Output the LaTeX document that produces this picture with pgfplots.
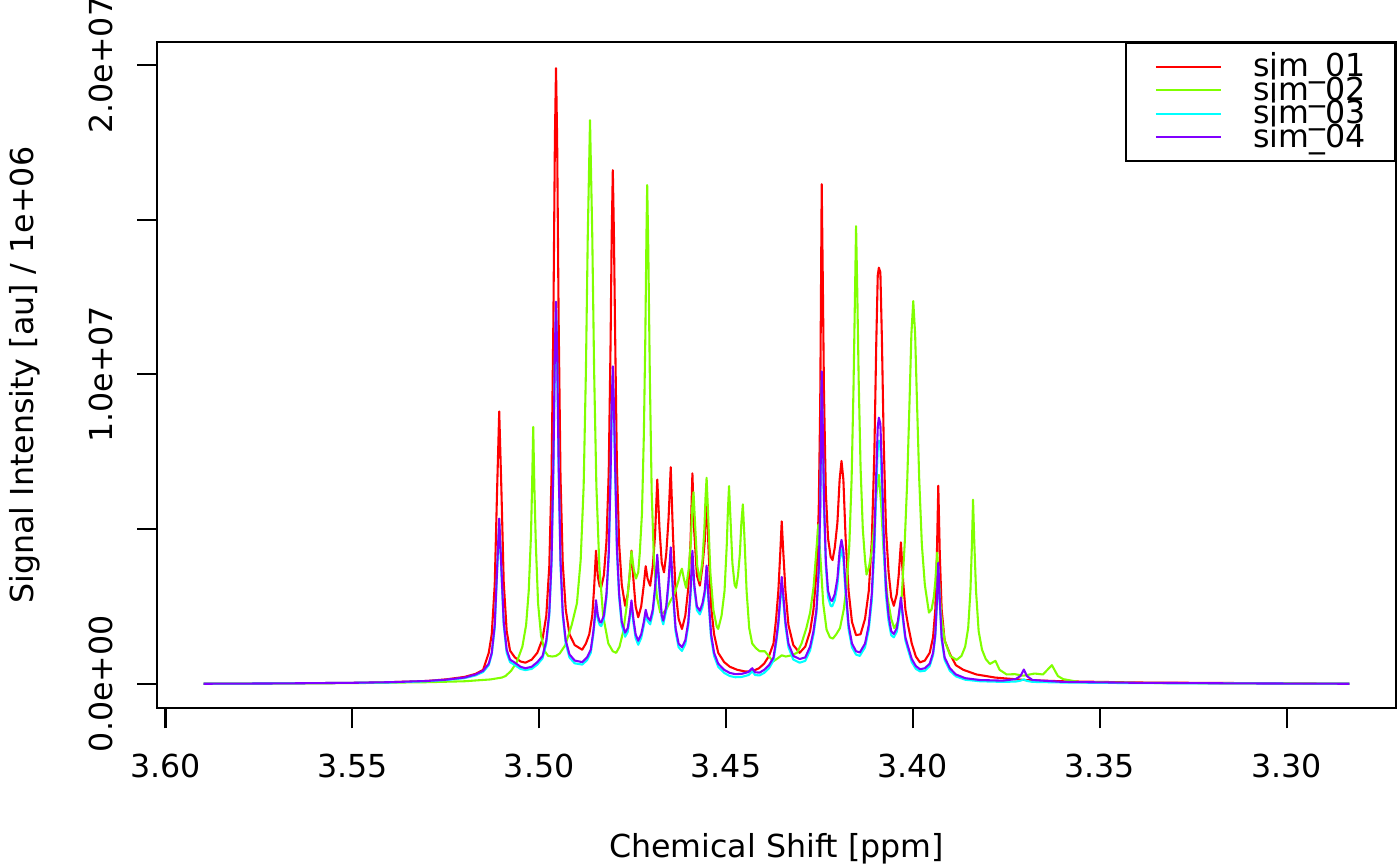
\documentclass[border=0pt]{standalone}
\usepackage{fontspec}
\setmainfont{DejaVu Sans}
\usepackage{pgfplots}
\pgfplotsset{compat=1.18}
\definecolor{cA}{HTML}{FF0000}
\definecolor{cB}{HTML}{80FF00}
\definecolor{cC}{HTML}{00FFFF}
\definecolor{cD}{HTML}{8000FF}
\begin{document}
\fontsize{11.4pt}{13.5pt}\selectfont
\begin{tikzpicture}
\begin{axis}[
  scale only axis, width=445.8pt, height=239.9pt,
  x dir=reverse, xmin=3.2708, xmax=3.6022, ymin=-0.0797, ymax=2.0745,
  axis line style={line width=0.75pt},
  every tick/.style={black, line width=0.75pt},
  tick align=outside, major tick length=7.2pt,
  xtick pos=bottom, ytick pos=left,
  xtick={3.30,3.35,3.40,3.45,3.50,3.55,3.60},
  xticklabels={3.30,3.35,3.40,3.45,3.50,3.55,3.60},
  ytick={0,0.5,1,1.5,2},
  yticklabels={0.0e+00,,1.0e+07,,2.0e+07},
  xticklabel style={anchor=base}, xticklabel shift=17.64pt,
  yticklabel style={rotate=90, anchor=base}, yticklabel shift=9.1pt,
  every axis x label/.style={at={([yshift=-53.5pt]axis description cs:0.5,0)}, anchor=base},
  every axis y label/.style={at={([xshift=-44.4pt]axis description cs:0,0.5)}, rotate=90, anchor=base},
  xlabel={Chemical Shift [ppm]},
  ylabel={Signal Intensity [au] / 1e+06},
  legend style={at={(1,1)}, anchor=north east, draw=black, line width=0.75pt, fill=white,
    inner xsep=10.4pt, inner ysep=4.24pt, column sep=11.4pt, row sep=0pt,
    cells={anchor=west}, nodes={inner sep=0pt, text height=7.85pt, text depth=0.65pt}},
  legend image code/.code={\draw[#1, line width=0.75pt] (0pt,0pt) -- (23.4pt,0pt);},
  every axis plot/.append style={line width=0.75pt, line join=round},
]
\addplot[cA, no markers] table {
x y
3.5898 0
3.5700 0.001
3.5500 0.003
3.5400 0.005
3.5300 0.009
3.5250 0.014
3.5200 0.022
3.5170 0.032
3.5150 0.045
3.5135 0.10
3.5127 0.16
3.5119 0.32
3.5113 0.61
3.5107 0.88
3.5101 0.62
3.5095 0.33
3.5087 0.17
3.5078 0.107
3.5065 0.085
3.5050 0.072
3.5037 0.068
3.5020 0.078
3.5005 0.10
3.4991 0.145
3.4981 0.22
3.4973 0.38
3.4967 0.67
3.4962 1.18
3.4958 1.76
3.4955 1.99
3.4952 1.76
3.4948 1.18
3.4943 0.67
3.4937 0.39
3.4929 0.24
3.4919 0.16
3.4905 0.125
3.4885 0.11
3.4875 0.13
3.4866 0.16
3.4858 0.22
3.4853 0.31
3.4848 0.43
3.4843 0.345
3.4838 0.315
3.4834 0.312
3.4827 0.35
3.4820 0.46
3.4814 0.68
3.4809 1.10
3.4806 1.45
3.4803 1.66
3.4800 1.45
3.4797 1.15
3.4792 0.70
3.4786 0.45
3.4779 0.32
3.4770 0.252
3.4763 0.29
3.4758 0.35
3.4753 0.43
3.4748 0.34
3.4742 0.25
3.4735 0.215
3.4727 0.25
3.4720 0.32
3.4715 0.38
3.4710 0.34
3.4703 0.317
3.4696 0.38
3.4690 0.48
3.4684 0.66
3.4678 0.50
3.4672 0.39
3.4666 0.36
3.4660 0.42
3.4654 0.53
3.4648 0.70
3.4642 0.48
3.4635 0.30
3.4627 0.21
3.4618 0.177
3.4609 0.22
3.4601 0.31
3.4595 0.46
3.4590 0.68
3.4585 0.49
3.4578 0.35
3.4570 0.317
3.4563 0.38
3.4557 0.46
3.4552 0.62
3.4547 0.44
3.4540 0.25
3.4532 0.16
3.4521 0.10
3.4505 0.07
3.4490 0.055
3.4470 0.045
3.4450 0.040
3.4430 0.040
3.4412 0.050
3.4398 0.065
3.4385 0.09
3.4373 0.13
3.4366 0.21
3.4360 0.30
3.4355 0.42
3.4351 0.525
3.4347 0.43
3.4341 0.30
3.4333 0.19
3.4320 0.125
3.4303 0.10
3.4288 0.12
3.4275 0.17
3.4266 0.24
3.4258 0.36
3.4252 0.56
3.4248 0.90
3.4246 1.25
3.4244 1.615
3.4241 1.30
3.4238 0.95
3.4233 0.62
3.4227 0.47
3.4220 0.41
3.4215 0.40
3.4209 0.44
3.4202 0.52
3.4196 0.66
3.4191 0.72
3.4186 0.66
3.4180 0.47
3.4172 0.30
3.4163 0.20
3.4152 0.157
3.4140 0.16
3.4128 0.21
3.4118 0.30
3.4110 0.46
3.4103 0.75
3.4098 1.10
3.4094 1.32
3.4091 1.345
3.4087 1.33
3.4083 1.12
3.4078 0.78
3.4072 0.50
3.4065 0.36
3.4058 0.28
3.4051 0.252
3.4043 0.29
3.4038 0.35
3.4032 0.457
3.4026 0.33
3.4020 0.24
3.4013 0.19
3.4003 0.13
3.3992 0.088
3.3981 0.069
3.3968 0.075
3.3955 0.10
3.3946 0.15
3.3940 0.24
3.3936 0.40
3.3932 0.64
3.3928 0.42
3.3923 0.24
3.3915 0.14
3.3901 0.097
3.3885 0.06
3.3865 0.045
3.3830 0.03
3.3780 0.02
3.3700 0.012
3.3600 0.008
3.3400 0.004
3.3100 0.002
3.2832 0
};
\addlegendentry{sim\_01}
\addplot[cB, no markers] table {
x y
3.5898 0
3.5700 0.001
3.5500 0.002
3.5300 0.005
3.5200 0.008
3.5130 0.014
3.5100 0.02
3.5090 0.025
3.5075 0.042
3.5060 0.07
3.5045 0.12
3.5035 0.19
3.5028 0.30
3.5022 0.48
3.5019 0.64
3.5016 0.83
3.5013 0.64
3.5009 0.45
3.5003 0.26
3.4995 0.155
3.4985 0.105
3.4976 0.09
3.4965 0.088
3.4955 0.09
3.4945 0.098
3.4930 0.125
3.4913 0.19
3.4899 0.26
3.4889 0.40
3.4881 0.64
3.4875 1.01
3.4870 1.45
3.4864 1.822
3.4858 1.45
3.4853 1.01
3.4847 0.64
3.4839 0.38
3.4829 0.22
3.4815 0.13
3.4803 0.105
3.4794 0.10
3.4785 0.12
3.4775 0.17
3.4766 0.25
3.4759 0.34
3.4753 0.428
3.4747 0.37
3.4741 0.34
3.4735 0.36
3.4731 0.42
3.4725 0.55
3.4720 0.80
3.4716 1.12
3.4713 1.45
3.4711 1.612
3.4708 1.40
3.4704 1.00
3.4699 0.62
3.4693 0.40
3.4685 0.28
3.4676 0.23
3.4670 0.227
3.4660 0.24
3.4648 0.27
3.4638 0.29
3.4628 0.33
3.4622 0.36
3.4618 0.372
3.4613 0.34
3.4607 0.31
3.4600 0.37
3.4594 0.46
3.4590 0.58
3.4587 0.619
3.4583 0.52
3.4577 0.38
3.4570 0.333
3.4563 0.40
3.4558 0.50
3.4555 0.60
3.4552 0.666
3.4548 0.55
3.4542 0.36
3.4534 0.24
3.4525 0.185
3.4521 0.177
3.4512 0.22
3.4504 0.30
3.4498 0.45
3.4495 0.56
3.4492 0.639
3.4488 0.53
3.4483 0.39
3.4477 0.32
3.4473 0.31
3.4468 0.35
3.4463 0.42
3.4459 0.52
3.4455 0.58
3.4451 0.48
3.4445 0.30
3.4438 0.18
3.4430 0.13
3.4420 0.115
3.4410 0.105
3.4396 0.105
3.4385 0.088
3.4374 0.072
3.4362 0.082
3.4351 0.092
3.4340 0.088
3.4325 0.092
3.4310 0.10
3.4298 0.13
3.4285 0.18
3.4275 0.23
3.4266 0.31
3.4259 0.42
3.4253 0.515
3.4247 0.40
3.4240 0.26
3.4231 0.175
3.4222 0.15
3.4214 0.146
3.4205 0.16
3.4195 0.18
3.4185 0.24
3.4177 0.32
3.4170 0.45
3.4164 0.66
3.4159 0.95
3.4155 1.25
3.4152 1.479
3.4149 1.28
3.4145 0.98
3.4140 0.70
3.4134 0.50
3.4128 0.40
3.4124 0.353
3.4117 0.38
3.4110 0.43
3.4103 0.52
3.4097 0.62
3.4091 0.675
3.4085 0.58
3.4078 0.42
3.4068 0.28
3.4058 0.21
3.4050 0.18
3.4040 0.20
3.4030 0.28
3.4022 0.45
3.4015 0.66
3.4009 0.91
3.4004 1.13
3.3999 1.237
3.3994 1.13
3.3989 0.91
3.3983 0.66
3.3976 0.45
3.3968 0.32
3.3957 0.23
3.3950 0.24
3.3944 0.28
3.3940 0.33
3.3935 0.424
3.3930 0.33
3.3924 0.22
3.3915 0.14
3.3900 0.09
3.3883 0.077
3.3870 0.09
3.3860 0.12
3.3852 0.18
3.3846 0.30
3.3842 0.45
3.3839 0.595
3.3836 0.47
3.3831 0.30
3.3824 0.17
3.3815 0.11
3.3805 0.08
3.3794 0.064
3.3779 0.074
3.3768 0.045
3.3749 0.030
3.3727 0.031
3.3705 0.026
3.3674 0.033
3.3652 0.030
3.3628 0.060
3.3612 0.025
3.3598 0.015
3.3553 0.005
3.3500 0.004
3.3300 0.002
3.2832 0
};
\addlegendentry{sim\_02}
\addplot[cC, no markers] table {
x y
3.5898 0
3.5700 0.001
3.5500 0.003
3.5400 0.004
3.5300 0.008
3.5250 0.012
3.5200 0.018
3.5170 0.027
3.5150 0.038
3.5135 0.06
3.5127 0.095
3.5119 0.18
3.5113 0.35
3.5107 0.52
3.5101 0.355
3.5095 0.19
3.5087 0.10
3.5078 0.07
3.5065 0.06
3.5050 0.048
3.5037 0.044
3.5020 0.048
3.5005 0.062
3.4991 0.082
3.4981 0.13
3.4973 0.22
3.4967 0.385
3.4962 0.69
3.4958 1.055
3.4955 1.21
3.4952 1.055
3.4948 0.69
3.4943 0.385
3.4937 0.22
3.4929 0.13
3.4919 0.085
3.4905 0.066
3.4885 0.062
3.4872 0.076
3.4862 0.10
3.4855 0.16
3.4851 0.21
3.4848 0.258
3.4843 0.208
3.4838 0.19
3.4834 0.186
3.4827 0.208
3.4820 0.278
3.4814 0.405
3.4809 0.66
3.4806 0.875
3.4803 1.0
3.4800 0.875
3.4797 0.70
3.4792 0.425
3.4786 0.278
3.4779 0.188
3.4770 0.152
3.4763 0.168
3.4758 0.208
3.4753 0.256
3.4748 0.198
3.4742 0.148
3.4735 0.126
3.4727 0.148
3.4720 0.188
3.4715 0.226
3.4710 0.203
3.4703 0.192
3.4696 0.228
3.4690 0.297
3.4684 0.40
3.4678 0.297
3.4672 0.208
3.4668 0.192
3.4660 0.238
3.4654 0.317
3.4648 0.425
3.4642 0.287
3.4635 0.168
3.4627 0.118
3.4618 0.106
3.4609 0.128
3.4601 0.188
3.4595 0.287
3.4590 0.415
3.4585 0.307
3.4578 0.238
3.4570 0.224
3.4563 0.248
3.4557 0.287
3.4552 0.368
3.4547 0.268
3.4540 0.148
3.4532 0.09
3.4521 0.055
3.4505 0.035
3.4490 0.025
3.4475 0.021
3.4458 0.022
3.4440 0.028
3.4430 0.040
3.4422 0.028
3.4410 0.027
3.4398 0.035
3.4385 0.05
3.4373 0.075
3.4366 0.13
3.4360 0.188
3.4355 0.265
3.4351 0.322
3.4347 0.272
3.4341 0.187
3.4333 0.118
3.4320 0.078
3.4303 0.068
3.4288 0.074
3.4275 0.108
3.4266 0.158
3.4258 0.228
3.4252 0.355
3.4248 0.552
3.4246 0.757
3.4244 0.98
3.4241 0.795
3.4238 0.58
3.4233 0.38
3.4227 0.28
3.4220 0.252
3.4216 0.25
3.4209 0.27
3.4202 0.318
3.4196 0.402
3.4191 0.434
3.4186 0.402
3.4180 0.29
3.4172 0.175
3.4163 0.118
3.4152 0.094
3.4142 0.09
3.4128 0.118
3.4118 0.175
3.4110 0.268
3.4103 0.432
3.4098 0.625
3.4094 0.76
3.4091 0.786
3.4087 0.77
3.4083 0.642
3.4078 0.44
3.4072 0.285
3.4065 0.202
3.4058 0.157
3.4051 0.15
3.4043 0.168
3.4038 0.208
3.4032 0.27
3.4026 0.2
3.4020 0.14
3.4013 0.11
3.4003 0.07
3.3992 0.048
3.3981 0.04
3.3968 0.042
3.3955 0.057
3.3946 0.092
3.3940 0.152
3.3936 0.25
3.3932 0.38
3.3928 0.26
3.3923 0.142
3.3915 0.077
3.3901 0.042
3.3885 0.024
3.3860 0.013
3.3820 0.008
3.3760 0.006
3.3725 0.007
3.3712 0.01
3.3703 0.014
3.3695 0.009
3.3680 0.006
3.3600 0.004
3.3400 0.002
3.3100 0.001
3.2832 0
};
\addlegendentry{sim\_03}
\addplot[cD, no markers] table {
x y
3.5898 0
3.5700 0.001
3.5500 0.003
3.5400 0.005
3.5300 0.009
3.5250 0.013
3.5200 0.02
3.5170 0.03
3.5150 0.042
3.5135 0.065
3.5127 0.10
3.5119 0.19
3.5113 0.36
3.5107 0.534
3.5101 0.37
3.5095 0.20
3.5087 0.11
3.5078 0.078
3.5065 0.068
3.5050 0.055
3.5037 0.050
3.5020 0.055
3.5005 0.07
3.4991 0.09
3.4981 0.14
3.4973 0.23
3.4967 0.40
3.4962 0.71
3.4958 1.08
3.4955 1.235
3.4952 1.08
3.4948 0.71
3.4943 0.40
3.4937 0.23
3.4929 0.14
3.4919 0.095
3.4905 0.075
3.4885 0.070
3.4872 0.085
3.4862 0.11
3.4855 0.17
3.4851 0.22
3.4848 0.270
3.4843 0.22
3.4838 0.20
3.4834 0.198
3.4827 0.22
3.4820 0.29
3.4814 0.42
3.4809 0.68
3.4806 0.90
3.4803 1.026
3.4800 0.90
3.4797 0.72
3.4792 0.44
3.4786 0.29
3.4779 0.20
3.4770 0.165
3.4763 0.18
3.4758 0.22
3.4753 0.269
3.4748 0.21
3.4742 0.16
3.4735 0.139
3.4727 0.16
3.4720 0.20
3.4715 0.239
3.4710 0.215
3.4703 0.204
3.4696 0.24
3.4690 0.31
3.4684 0.417
3.4678 0.31
3.4672 0.22
3.4668 0.204
3.4660 0.25
3.4654 0.33
3.4648 0.441
3.4642 0.30
3.4635 0.18
3.4627 0.13
3.4618 0.118
3.4609 0.14
3.4601 0.20
3.4595 0.30
3.4590 0.430
3.4585 0.32
3.4578 0.25
3.4570 0.236
3.4563 0.26
3.4557 0.30
3.4552 0.382
3.4547 0.28
3.4540 0.16
3.4532 0.10
3.4521 0.065
3.4505 0.045
3.4490 0.035
3.4475 0.031
3.4458 0.032
3.4440 0.038
3.4430 0.050
3.4422 0.037
3.4410 0.036
3.4398 0.045
3.4385 0.06
3.4373 0.085
3.4366 0.14
3.4360 0.20
3.4355 0.28
3.4351 0.345
3.4347 0.29
3.4341 0.20
3.4333 0.13
3.4320 0.09
3.4303 0.080
3.4288 0.085
3.4275 0.12
3.4266 0.17
3.4258 0.24
3.4252 0.37
3.4248 0.57
3.4246 0.78
3.4244 1.01
3.4241 0.82
3.4238 0.60
3.4233 0.40
3.4227 0.30
3.4220 0.27
3.4216 0.268
3.4209 0.29
3.4202 0.34
3.4196 0.43
3.4191 0.465
3.4186 0.43
3.4180 0.31
3.4172 0.19
3.4163 0.13
3.4152 0.105
3.4142 0.101
3.4128 0.13
3.4118 0.19
3.4110 0.29
3.4103 0.47
3.4098 0.68
3.4094 0.83
3.4091 0.86
3.4087 0.84
3.4083 0.70
3.4078 0.48
3.4072 0.31
3.4065 0.22
3.4058 0.17
3.4051 0.161
3.4043 0.18
3.4038 0.22
3.4032 0.279
3.4026 0.21
3.4020 0.15
3.4013 0.12
3.4003 0.08
3.3992 0.057
3.3981 0.047
3.3968 0.05
3.3955 0.065
3.3946 0.10
3.3940 0.16
3.3936 0.26
3.3932 0.391
3.3928 0.27
3.3923 0.15
3.3915 0.085
3.3901 0.05
3.3885 0.03
3.3860 0.018
3.3820 0.012
3.3760 0.01
3.3725 0.015
3.3712 0.025
3.3703 0.046
3.3695 0.025
3.3680 0.012
3.3600 0.006
3.3400 0.003
3.3100 0.001
3.2832 0
};
\addlegendentry{sim\_04}
\end{axis}
\pgfresetboundingbox
\path ([shift={(-56.63pt,-56.77pt)}]current axis.south west) rectangle ([shift={(1.55pt,15.12pt)}]current axis.north east);
\end{tikzpicture}
\end{document}
